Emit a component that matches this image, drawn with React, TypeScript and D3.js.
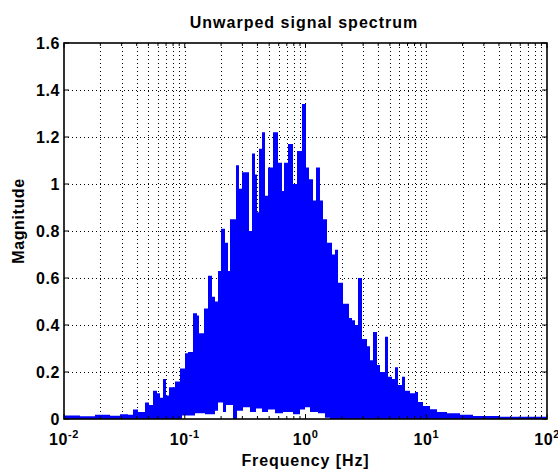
import React from 'react';
import * as d3 from 'd3';

// Upper envelope of the spectrum (step bins): start frequency [Hz] and magnitude
const upperFreq = [
  0.01, 0.01357, 0.01806, 0.02404, 0.0291, 0.03388, 0.03728, 0.04101, 0.04686, 0.05058,
  0.05459, 0.05892, 0.06237, 0.06605, 0.06993, 0.07405, 0.08305, 0.09135, 0.1005, 0.1064,
  0.117, 0.1263, 0.1312, 0.1443, 0.1558, 0.1681, 0.178, 0.1885, 0.1996, 0.2154,
  0.2282, 0.237, 0.2657, 0.2813, 0.2979, 0.3155, 0.3405, 0.3605, 0.3818, 0.3966,
  0.4121, 0.4364, 0.462, 0.4892, 0.538, 0.592, 0.6388, 0.6636, 0.7164, 0.788,
  0.8504, 0.9354, 1.0095, 1.069, 1.154, 1.222, 1.318, 1.396, 1.507, 1.658,
  1.755, 1.859, 2.045, 2.292, 2.427, 2.57, 2.721, 2.937, 3.231, 3.421,
  3.622, 3.909, 4.14, 4.553, 4.823, 5.205, 5.511, 5.834, 6.298, 6.668,
  7.334, 8.068, 8.545, 9.399, 10.74, 12.27, 14.85, 19.03, 24.39, 40.82, 100,
];
const upperMag = [
  0.015, 0.012, 0.018, 0.014, 0.02, 0.018, 0.04, 0.03, 0.07, 0.06,
  0.12, 0.11, 0.09, 0.17, 0.1, 0.135, 0.16, 0.215, 0.28, 0.285,
  0.45, 0.44, 0.365, 0.47, 0.61, 0.52, 0.5, 0.63, 0.81, 0.75,
  0.63, 0.85, 1.08, 0.98, 1.05, 1.05, 0.8, 1.13, 1.04, 0.88,
  1.15, 1.22, 0.95, 1.07, 1.22, 1.09, 0.97, 1.09, 1.17, 1.0,
  1.14, 1.34, 1.07, 1.02, 0.93, 1.07, 0.93, 0.85, 0.75, 0.7,
  0.72, 0.58, 0.49, 0.43, 0.42, 0.4, 0.6, 0.34, 0.31, 0.25,
  0.37, 0.23, 0.2, 0.35, 0.18, 0.17, 0.22, 0.145, 0.18, 0.12,
  0.11, 0.115, 0.072, 0.055, 0.042, 0.03, 0.025, 0.018, 0.013, 0.01, 0.01,
];

// Lower envelope (white gaps near the baseline)
const lowerFreq = [
  0.01, 0.0949, 0.1216, 0.1472, 0.178, 0.1885, 0.2074, 0.2196, 0.251, 0.2708,
  0.3037, 0.347, 0.3891, 0.4364, 0.4892, 0.559, 0.6512, 0.788, 0.9004, 0.9906,
  1.09, 1.269, 1.45, 1.595, 100,
];
const lowerMag = [
  0, 0.015, 0.025, 0.02, 0.035, 0.07, 0.03, 0.06, 0, 0.035,
  0.05, 0.03, 0.045, 0.03, 0.04, 0.025, 0.03, 0.02, 0.04, 0.05,
  0.03, 0.025, 0.005, 0, 0,
];

const yTicks = [0, 0.2, 0.4, 0.6, 0.8, 1, 1.2, 1.4, 1.6];
const yTickLabels = ['0', '0.2', '0.4', '0.6', '0.8', '1', '1.2', '1.4', '1.6'];
const xDecades = [0.01, 0.1, 1, 10, 100];
const xExponents = ['-2', '-1', '0', '1', '2'];
const minorMultipliers = [2, 3, 4, 5, 6, 7, 8, 9];

const title = 'Unwarped signal spectrum';
const xLabel = 'Frequency [Hz]';
const yLabel = 'Magnitude';

type Pt = { f: number; v: number };

export default function App() {
  const W = 558;
  const H = 470;
  const L = 64, T = 43, R = 547, B = 419;
  const x = d3.scaleLog().domain([0.01, 100]).range([L, R]);
  const y = d3.scaleLinear().domain([0, 1.6]).range([B, T]);

  const upper: Pt[] = upperFreq.map((f, i) => ({ f, v: upperMag[i] }));
  const lower: Pt[] = lowerFreq.map((f, i) => ({ f, v: lowerMag[i] }));
  const area = d3
    .area<Pt>()
    .x((d) => x(d.f))
    .y0(y(0))
    .y1((d) => y(d.v))
    .curve(d3.curveStepAfter);

  const minor: number[] = [];
  xDecades.slice(0, -1).forEach((d) => minorMultipliers.forEach((k) => minor.push(d * k)));
  const allX = [...xDecades, ...minor];

  const font = '"Liberation Sans", Arial, Helvetica, sans-serif';
  const tickLen = 5;
  const minorLen = 3;

  return (
    <svg
      width={W}
      height={H}
      style={{ position: 'absolute', left: 0, top: 0, background: '#fff' }}
      fontFamily={font}
      fontWeight="bold"
    >
      <rect x={0} y={0} width={W} height={H} fill="#fff" />
      {/* grid */}
      <g stroke="#000" strokeWidth={1} strokeDasharray="1,3">
        {allX
          .filter((f) => f > 0.01 && f < 100)
          .map((f, i) => (
            <line key={'gx' + i} x1={Math.round(x(f)) + 0.5} x2={Math.round(x(f)) + 0.5} y1={T} y2={B} />
          ))}
        {yTicks
          .filter((v) => v > 0 && v < 1.6)
          .map((v, i) => (
            <line key={'gy' + i} x1={L} x2={R} y1={Math.round(y(v)) + 0.5} y2={Math.round(y(v)) + 0.5} />
          ))}
      </g>
      {/* data */}
      <path d={area(upper) || ''} fill="#0000ff" />
      <path d={area(lower) || ''} fill="#fff" />
      {/* ticks */}
      <g stroke="#000" strokeWidth={1}>
        {xDecades.map((f, i) => (
          <g key={'xt' + i}>
            <line x1={x(f)} x2={x(f)} y1={B} y2={B - tickLen} />
            <line x1={x(f)} x2={x(f)} y1={T} y2={T + tickLen} />
          </g>
        ))}
        {minor.map((f, i) => (
          <g key={'xm' + i}>
            <line x1={x(f)} x2={x(f)} y1={B} y2={B - minorLen} />
            <line x1={x(f)} x2={x(f)} y1={T} y2={T + minorLen} />
          </g>
        ))}
        {yTicks.map((v, i) => (
          <g key={'yt' + i}>
            <line x1={L} x2={L + tickLen} y1={y(v)} y2={y(v)} />
            <line x1={R} x2={R - tickLen} y1={y(v)} y2={y(v)} />
          </g>
        ))}
      </g>
      {/* box */}
      <rect x={L} y={T} width={R - L} height={B - T} fill="none" stroke="#000" strokeWidth={1.6} />
      {/* y labels */}
      {yTicks.map((v, i) => (
        <text key={'yl' + i} x={L - 4} y={y(v) + 5.5} textAnchor="end" fontSize={16} letterSpacing={0.6}>
          {yTickLabels[i]}
        </text>
      ))}
      {/* x labels */}
      {xDecades.map((f, i) => (
        <text key={'xl' + i} x={x(f)} y={445} textAnchor="middle" fontSize={16} letterSpacing={0.6}>
          <tspan>10</tspan>
          <tspan dy={-7} fontSize={11}>{xExponents[i]}</tspan>
        </text>
      ))}
      <text x={304} y={28} textAnchor="middle" fontSize={16} letterSpacing={1}>
        {title}
      </text>
      <text x={(L + R) / 2} y={466} textAnchor="middle" fontSize={16} letterSpacing={0.9}>
        {xLabel}
      </text>
      <text
        transform={`translate(24, ${221}) rotate(-90)`}
        textAnchor="middle"
        fontSize={16}
        letterSpacing={0.6}
      >
        {yLabel}
      </text>
    </svg>
  );
}
